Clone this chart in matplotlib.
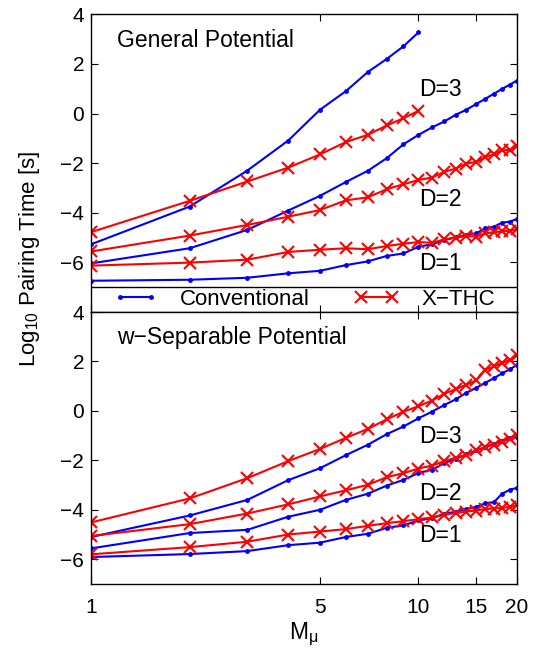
import matplotlib
matplotlib.use("Agg")
import matplotlib.pyplot as plt

plt.rcParams['font.family'] = ['Liberation Sans', 'DejaVu Sans']
plt.rcParams['mathtext.default'] = 'regular'

# M_mu values (integers 1..20)
m_full = list(range(1, 21))
m_short = list(range(1, 11))

# General potential, log10 pairing time [s]
gen_conv_d3 = [-5.27, -3.75, -2.30, -1.09, 0.15, 0.90, 1.67, 2.20, 2.71, 3.27]
gen_thc_d3 = [-4.78, -3.52, -2.74, -2.18, -1.65, -1.15, -0.86, -0.48, -0.19, 0.11]
gen_conv_d2 = [-6.04, -5.43, -4.69, -3.91, -3.32, -2.76, -2.31, -1.80, -1.24, -0.86,
               -0.56, -0.32, -0.05, 0.15, 0.38, 0.59, 0.80, 0.99, 1.16, 1.33]
gen_thc_d2 = [-5.56, -4.92, -4.49, -4.16, -3.89, -3.50, -3.38, -3.05, -2.85, -2.68,
              -2.58, -2.35, -2.22, -2.02, -1.95, -1.76, -1.64, -1.49, -1.46, -1.32]
gen_conv_d1 = [-6.74, -6.70, -6.62, -6.44, -6.34, -6.11, -5.96, -5.74, -5.64, -5.37,
               -5.27, -5.10, -4.99, -4.90, -4.83, -4.63, -4.56, -4.40, -4.36, -4.25]
gen_thc_d1 = [-6.13, -6.01, -5.89, -5.58, -5.49, -5.43, -5.47, -5.34, -5.25, -5.18,
              -5.21, -5.07, -5.00, -4.94, -4.96, -4.83, -4.79, -4.75, -4.72, -4.67]

# w-separable potential
sep_conv_d3 = [-5.10, -4.23, -3.60, -2.80, -2.32, -1.79, -1.37, -0.94, -0.63, -0.30,
               -0.03, 0.24, 0.47, 0.73, 0.93, 1.14, 1.32, 1.52, 1.68, 1.86]
sep_thc_d3 = [-4.51, -3.54, -2.72, -2.03, -1.54, -1.09, -0.73, -0.34, -0.03, 0.19,
              0.42, 0.69, 0.88, 1.06, 1.23, 1.66, 1.80, 1.94, 2.06, 2.25]
sep_conv_d2 = [-5.56, -4.94, -4.81, -4.28, -4.00, -3.60, -3.35, -3.02, -2.79, -2.51,
               -2.38, -2.11, -1.94, -1.76, -1.60, -1.47, -1.33, -1.20, -1.08, -1.04]
sep_thc_d2 = [-5.06, -4.58, -4.15, -3.78, -3.46, -3.21, -2.99, -2.68, -2.52, -2.33,
              -2.21, -2.03, -1.89, -1.78, -1.60, -1.47, -1.36, -1.24, -1.13, -0.97]
sep_conv_d1 = [-5.91, -5.79, -5.67, -5.43, -5.33, -5.10, -4.97, -4.73, -4.63, -4.43,
               -4.34, -4.16, -4.08, -3.96, -3.89, -3.73, -3.69, -3.35, -3.19, -3.11]
sep_thc_d1 = [-5.80, -5.51, -5.29, -5.00, -4.88, -4.78, -4.65, -4.54, -4.46, -4.38,
              -4.31, -4.20, -4.13, -4.07, -4.03, -3.97, -3.95, -3.92, -3.89, -3.81]

xticks = [1, 5, 10, 15, 20]
yticks = [-6, -4, -2, 0, 2, 4]

blue = dict(color='#0000ff', lw=1.5, marker='.', ms=5)
red = dict(color='#ff0000', lw=1.5, marker='x', ms=8, mew=1.5)
txt = 16.5

fig = plt.figure(figsize=(5.33, 6.48), dpi=100)
ax1 = fig.add_axes([0.171, 0.5185, 0.799, 0.4595])
ax2 = fig.add_axes([0.171, 0.0988, 0.799, 0.4197])

# top panel
ax1.plot(m_short, gen_conv_d3, **blue, label='Conventional')
ax1.plot(m_short, gen_thc_d3, **red, label='X\u2212THC')
ax1.plot(m_full, gen_conv_d2, **blue)
ax1.plot(m_full, gen_thc_d2, **red)
ax1.plot(m_full, gen_conv_d1, **blue)
ax1.plot(m_full, gen_thc_d1, **red)
ax1.set_ylim(-8, 4)
ax1.axhline(-7, color='black', lw=1.0)
ax1.text(1.2, 2.96, 'General Potential', fontsize=txt, va='center')
ax1.text(10.05, 0.96, 'D=3', fontsize=txt, va='center')
ax1.text(10.05, -3.48, 'D=2', fontsize=txt, va='center')
ax1.text(10.05, -6.04, 'D=1', fontsize=txt, va='center')

# bottom panel
ax2.plot(m_full, sep_conv_d3, **blue)
ax2.plot(m_full, sep_thc_d3, **red)
ax2.plot(m_full, sep_conv_d2, **blue)
ax2.plot(m_full, sep_thc_d2, **red)
ax2.plot(m_full, sep_conv_d1, **blue)
ax2.plot(m_full, sep_thc_d1, **red)
ax2.set_ylim(-7, 4)
ax2.text(1.2, 2.95, 'w\u2212Separable Potential', fontsize=txt, va='center')
ax2.text(10.05, -1.04, 'D=3', fontsize=txt, va='center')
ax2.text(10.05, -3.33, 'D=2', fontsize=txt, va='center')
ax2.text(10.05, -5.04, 'D=1', fontsize=txt, va='center')

for ax in (ax1, ax2):
    ax.set_xscale('log')
    ax.set_xlim(1, 20)
    ax.set_xticks(xticks)
    ax.set_xticklabels([str(t) for t in xticks])
    ax.xaxis.set_minor_locator(matplotlib.ticker.NullLocator())
    ax.set_yticks(yticks)
    ax.tick_params(direction='in', top=True, right=True, labelsize=15, length=5)
    ax.tick_params(axis='y', pad=5)
    ax.tick_params(axis='x', pad=10)
    for s in ax.spines.values():
        s.set_linewidth(1.0)

ax1.tick_params(labelbottom=False)

leg = ax1.legend(loc='center', bbox_to_anchor=(0.5, 0.5 / 12), ncol=2,
                 fontsize=16, frameon=False, numpoints=2, handlelength=2.0,
                 handletextpad=1.0, columnspacing=2.0, borderaxespad=0)

ax2.set_xlabel('M$_{μ}$', fontsize=txt, labelpad=3)
fig.text(0.055, 0.60, 'Log$_{10}$ Pairing Time [s]', rotation=90,
         fontsize=16, ha='center', va='center')

fig.savefig('out.png', dpi=100)
